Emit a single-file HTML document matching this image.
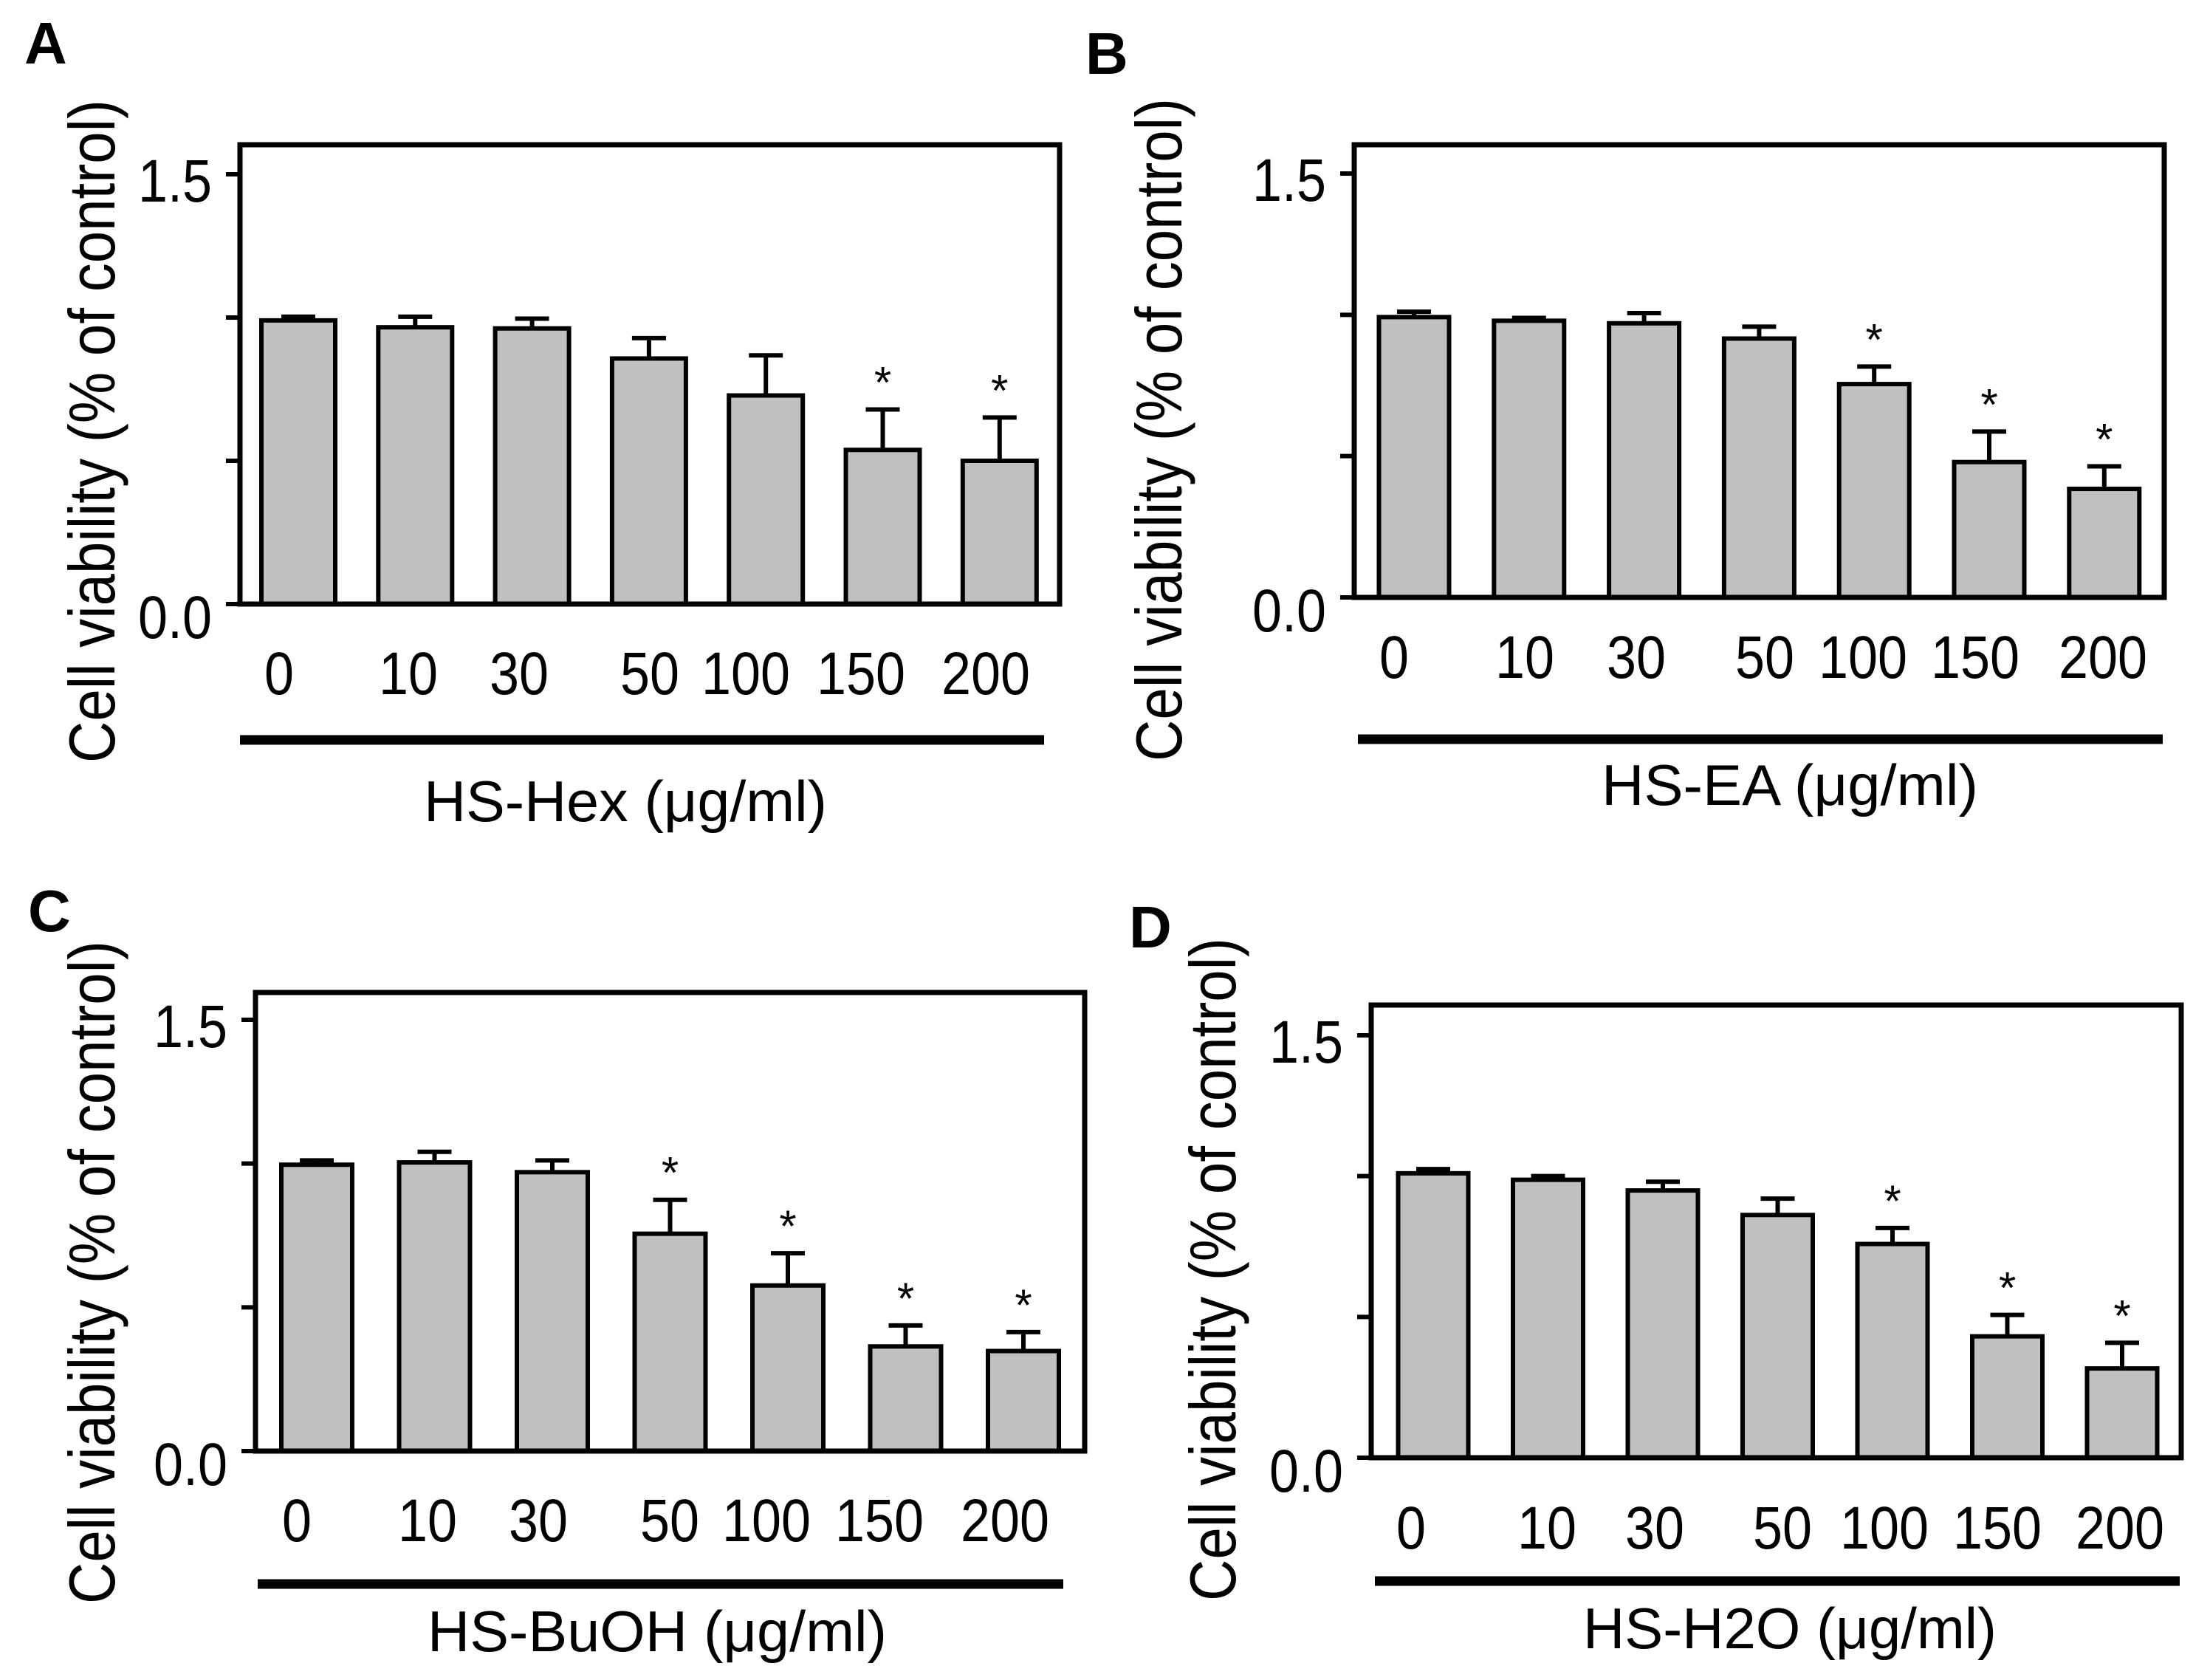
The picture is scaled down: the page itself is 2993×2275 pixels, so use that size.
<!DOCTYPE html>
<html><head><meta charset="utf-8"><style>
html,body{margin:0;padding:0;background:#fff;}
svg{display:block;}
text{font-family:"Liberation Sans",Arial,sans-serif;fill:#000;}
</style></head><body>
<svg id="fig" width="2993" height="2275" viewBox="0 0 2993 2275"></svg>
<script>
const categories = ["0","10","30","50","100","150","200"];
const yTicks = [0, 0.5, 1.0, 1.5];
const yTickLabels = {"0":"0.0","1.5":"1.5"};
const valuesA = [0.99, 0.966, 0.962, 0.857, 0.728, 0.538, 0.50];
const errorsA = [0.013, 0.037, 0.034, 0.071, 0.14, 0.141, 0.151];
const sigA = [false,false,false,false,false,true,true];
const valuesB = [0.992, 0.979, 0.970, 0.916, 0.755, 0.479, 0.384];
const errorsB = [0.019, 0.010, 0.036, 0.042, 0.062, 0.108, 0.080];
const sigB = [false,false,false,false,true,true,true];
const valuesC = [0.996, 1.004, 0.970, 0.756, 0.576, 0.364, 0.348];
const errorsC = [0.015, 0.037, 0.041, 0.118, 0.112, 0.073, 0.066];
const sigC = [false,false,false,true,true,true,true];
const valuesD = [1.01, 0.987, 0.949, 0.862, 0.759, 0.431, 0.317];
const errorsD = [0.015, 0.013, 0.031, 0.058, 0.057, 0.076, 0.091];
const sigD = [false,false,false,false,true,true,true];

const NS="http://www.w3.org/2000/svg";
const svg=document.getElementById('fig');
function mk(tag,attrs,parent){const e=document.createElementNS(NS,tag);for(const k in attrs)e.setAttribute(k,attrs[k]);(parent||svg).appendChild(e);return e;}

const panels=[
 {id:'a',letter:'A',lx:33,ly:86,L:325,R:1435,T:196,B:818,y15:236,x0:404,step:158.3,bw:100,
  labX:[378,553,703,880,1010,1166,1335],labY:940,lineY:1002,lineX1:325,lineX2:1414,
  title:'HS-Hex (\u03bcg/ml)',titleX:847,titleY:1112,titleW:546,ylb:155,yly:584,
  vals:valuesA,errs:errorsA,sig:sigA},
 {id:'b',letter:'B',lx:1470,ly:100,L:1834,R:2931,T:196,B:809,y15:235,x0:1915,step:155.8,bw:95,
  labX:[1888,2065,2216,2390,2523,2675,2848],labY:918,lineY:1001,lineX1:1839,lineX2:2929,
  title:'HS-EA (\u03bcg/ml)',titleX:2424,titleY:1090,titleW:510,ylb:1600,yly:582,
  vals:valuesB,errs:errorsB,sig:sigB},
 {id:'c',letter:'C',lx:38,ly:1261,L:346,R:1469,T:1344,B:1965,y15:1381,x0:429,step:159.5,bw:96,
  labX:[402,579,729,907,1038,1191,1361],labY:2087,lineY:2145,lineX1:349,lineX2:1440,
  title:'HS-BuOH (\u03bcg/ml)',titleX:890,titleY:2236,titleW:622,ylb:155,yly:1723,
  vals:valuesC,errs:errorsC,sig:sigC},
 {id:'d',letter:'D',lx:1529,ly:1283,L:1857,R:2954,T:1361,B:1974,y15:1402,x0:1941,step:155.5,bw:95,
  labX:[1911,2095,2241,2414,2552,2705,2871],labY:2097,lineY:2141,lineX1:1862,lineX2:2952,
  title:'HS-H2O (\u03bcg/ml)',titleX:2424,titleY:2232,titleW:560,ylb:1673,yly:1719,
  vals:valuesD,errs:errorsD,sig:sigD}
];

panels.forEach(p=>{
  const g=mk('g',{});
  
  
  const yScale=v=>p.B-(p.B-p.y15)*v/1.5;
  const xScale=i=>p.x0+i*p.step;
  const lt=mk('text',{x:p.lx,y:p.ly,'font-size':80,'font-weight':'bold'},g);lt.textContent=p.letter;
  
  
  p.vals.forEach((v,i)=>{
    const cx=xScale(i), top=yScale(v), et=yScale(v+p.errs[i]);
    const el=mk('line',{x1:cx,x2:cx,y1:top,y2:et,stroke:'#000','stroke-width':6},g);
    
    
    const cap=mk('line',{x1:cx-23,x2:cx+23,y1:et,y2:et,stroke:'#000','stroke-width':6},g);
    
    
    const r=mk('rect',{x:cx-p.bw/2,y:top,width:p.bw,height:p.B-top,fill:'#c0c0c0',stroke:'#000','stroke-width':6},g);
    
    
    if(p.sig[i]){
      const s=mk('text',{x:cx,y:et-16,'font-size':60,'text-anchor':'middle'},g);s.textContent='*';
      
      
    }
  });
  const fr=mk('rect',{x:p.L,y:p.T,width:p.R-p.L,height:p.B-p.T,fill:'none',stroke:'#000','stroke-width':7},g);
  
  
  yTicks.forEach(t=>{
    const y=yScale(t);
    const tk=mk('line',{x1:p.L-19,x2:p.L,y1:y,y2:y,stroke:'#000','stroke-width':6},g);
    
    
    const lab=yTickLabels[String(t)];
    if(lab){
      const tx=mk('text',{x:p.L-38,y:y+(t===0?46:37),'font-size':82,'text-anchor':'end',textLength:100,lengthAdjust:'spacingAndGlyphs'},g);
      tx.textContent=lab;
      
      
    }
  });
  categories.forEach((c,i)=>{
    const tx=mk('text',{x:p.labX[i],y:p.labY,'font-size':82,'text-anchor':'middle',textLength:c.length*40,lengthAdjust:'spacingAndGlyphs'},g);
    tx.textContent=c;
    
    
  });
  const ln=mk('line',{x1:p.lineX1,x2:p.lineX2,y1:p.lineY,y2:p.lineY,stroke:'#000','stroke-width':13},g);
  
  
  const tt=mk('text',{x:p.titleX,y:p.titleY,'font-size':78,'text-anchor':'middle',textLength:p.titleW,lengthAdjust:'spacingAndGlyphs'},g);
  tt.textContent=p.title;
  
  
  const yl=mk('text',{x:0,y:0,'font-size':88,'text-anchor':'middle',textLength:898,lengthAdjust:'spacingAndGlyphs',transform:'translate('+p.ylb+','+p.yly+') rotate(-90)'},g);
  yl.textContent='Cell viability (% of control)';
  
  
});
</script>
</body></html>
